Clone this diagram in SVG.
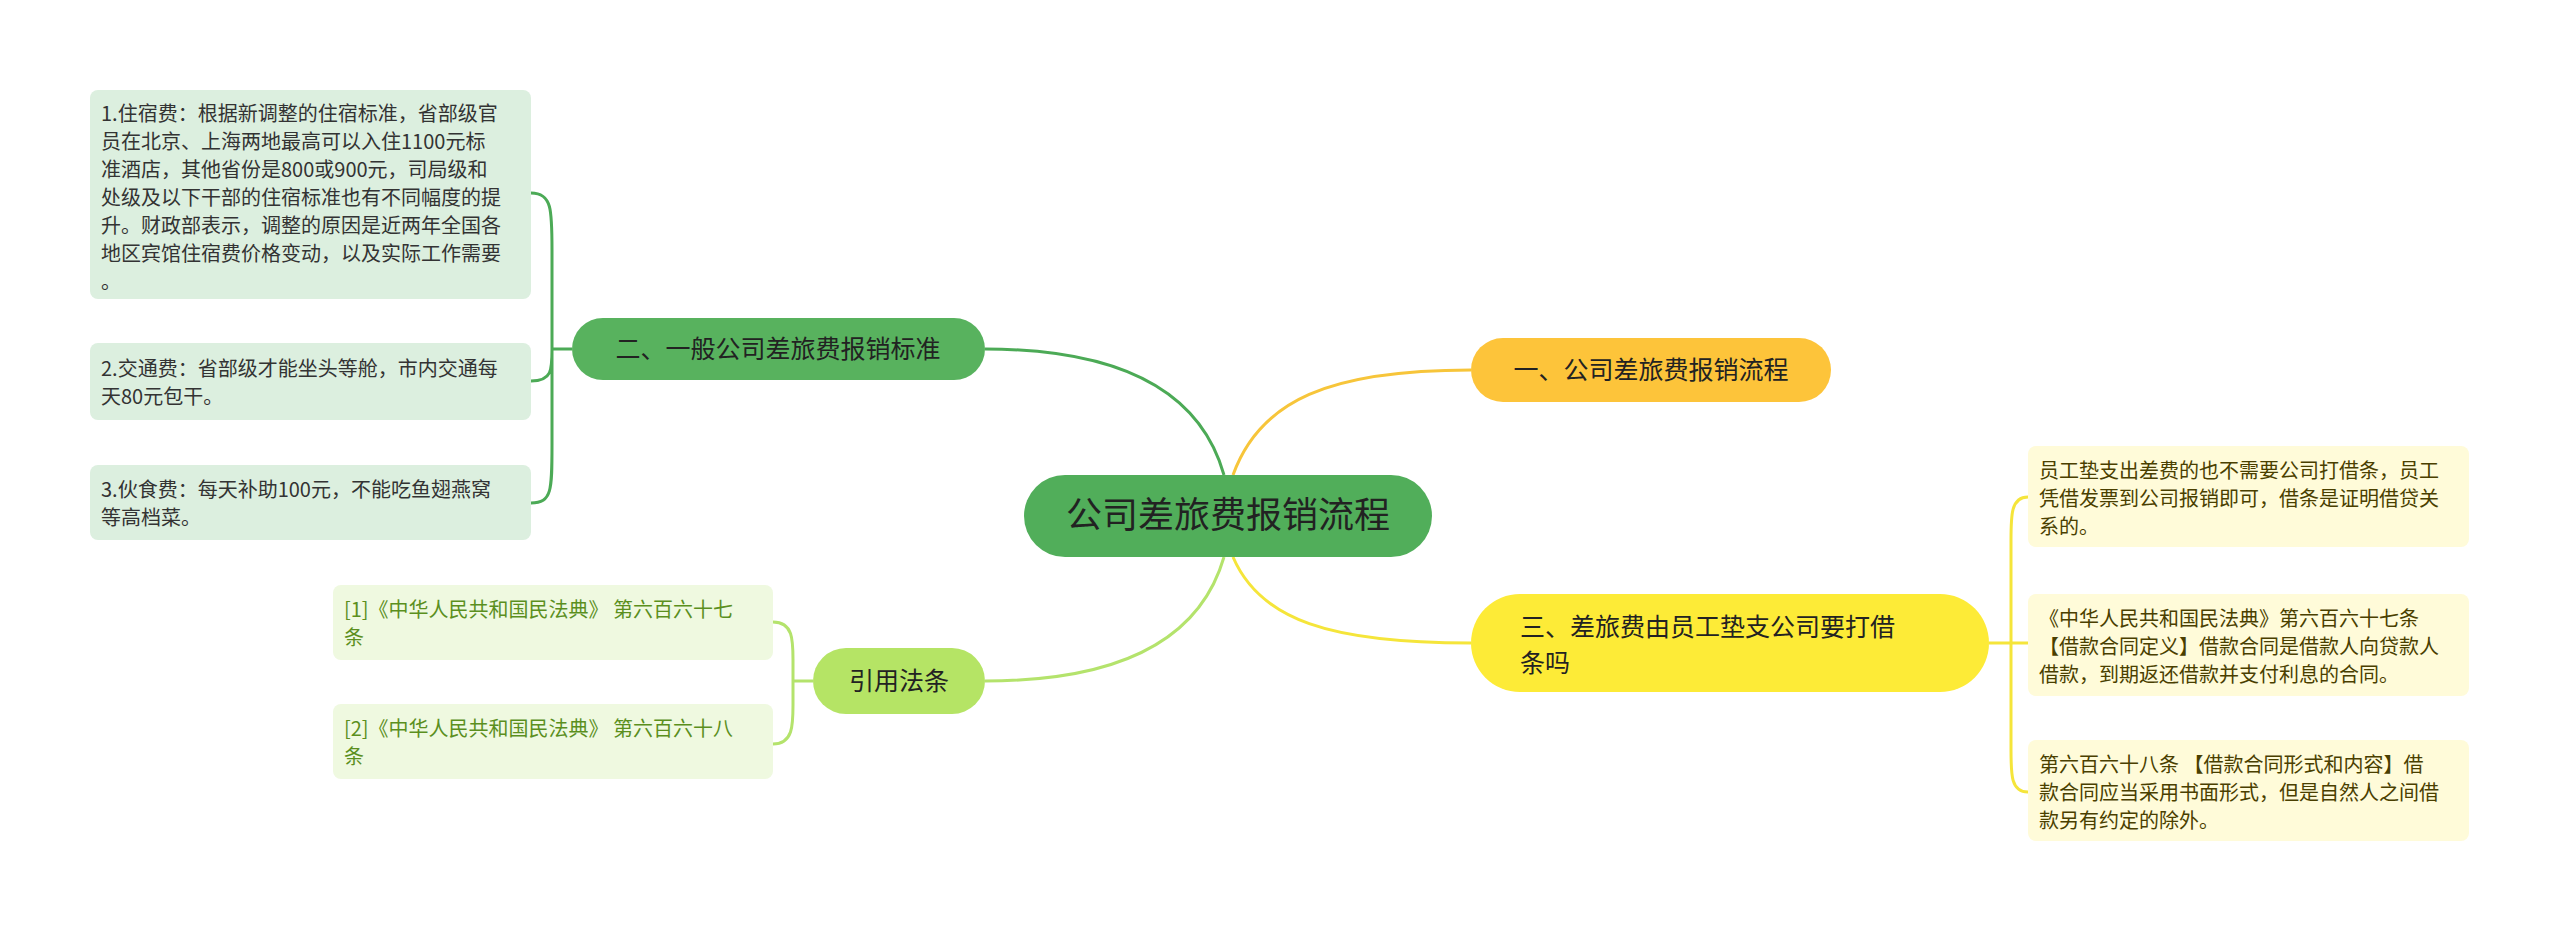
<svg xmlns="http://www.w3.org/2000/svg" width="2560" height="932" viewBox="0 0 2560 932">
<style>
text{font-family:"Noto Sans CJK SC","Liberation Sans",sans-serif}
.c{fill:none;stroke-width:3}
.lf{font-size:20px;fill:#333}
.gl{fill:#dcefdf}
.yl{fill:#fffbd9}
.yt{font-size:20px;fill:#4a3f00}
.cl{fill:#eff9e0}
.ct{font-size:20px;fill:#5b8f1e}
</style>
<rect width="2560" height="932" fill="#fff"/>
<g id="connectors">
<path class="c" stroke="#4caa56" d="M1224,475 C1200,390 1120,349 985,349"/>
<path class="c" stroke="#b4e36c" d="M1224,557 C1200,640 1120,681 985,681"/>
<path class="c" stroke="#f7c53a" d="M1233,475 C1260,400 1330,370 1471,370"/>
<path class="c" stroke="#f5e53a" d="M1233,557 C1260,620 1330,643 1471,643"/>
<path class="c" stroke="#4caa56" stroke-width="2" d="M572,349 H552 M531,193 C552,193 552,210 552,250 V445 C552,490 552,503 531,503 M531,381 C552,381 552,370 552,349"/>
<path class="c" stroke="#b4e36c" stroke-width="2" d="M813,681 H793 M773,622 C793,622 793,640 793,660 V705 C793,725 793,744 773,744"/>
<path class="c" stroke="#f5e53a" stroke-width="2" d="M1989,643 H2011 M2028,497 C2011,497 2011,515 2011,540 V750 C2011,775 2011,792 2028,792 M2011,643 H2028"/>
</g>
<g id="center"><rect x="1024" y="475" width="408" height="82" rx="41" fill="#51ae5a"/><text x="1228" y="528" font-size="36" fill="#222" text-anchor="middle">公司差旅费报销流程</text></g>
<g id="n2"><rect x="572" y="318" width="413" height="62" rx="31" fill="#58b25e"/><text x="778" y="358" font-size="25" fill="#222" text-anchor="middle">二、一般公司差旅费报销标准</text></g>
<g id="n1"><rect x="1471" y="338" width="360" height="64" rx="32" fill="#fdc43a"/><text x="1651" y="379" font-size="25" fill="#222" text-anchor="middle">一、公司差旅费报销流程</text></g>
<g id="n3"><rect x="1471" y="594" width="518" height="98" rx="49" fill="#fdeb37"/><text font-size="25" fill="#222"><tspan x="1520" y="636">三、差旅费由员工垫支公司要打借</tspan><tspan x="1520" y="672">条吗</tspan></text></g>
<g id="n4"><rect x="813" y="648" width="172" height="66" rx="33" fill="#b5e465"/><text x="899" y="690" font-size="25" fill="#222" text-anchor="middle">引用法条</text></g>
<g id="l1"><rect class="gl" x="90" y="90" width="441" height="209" rx="8"/><text class="lf"><tspan x="101" y="121">1.住宿费：根据新调整的住宿标准，省部级官</tspan><tspan x="101" y="149">员在北京、上海两地最高可以入住1100元标</tspan><tspan x="101" y="177">准酒店，其他省份是800或900元，司局级和</tspan><tspan x="101" y="205">处级及以下干部的住宿标准也有不同幅度的提</tspan><tspan x="101" y="233">升。财政部表示，调整的原因是近两年全国各</tspan><tspan x="101" y="261">地区宾馆住宿费价格变动，以及实际工作需要</tspan><tspan x="101" y="289">。</tspan></text></g>
<g id="l2"><rect class="gl" x="90" y="343" width="441" height="77" rx="8"/><text class="lf"><tspan x="101" y="376">2.交通费：省部级才能坐头等舱，市内交通每</tspan><tspan x="101" y="404">天80元包干。</tspan></text></g>
<g id="l3"><rect class="gl" x="90" y="465" width="441" height="75" rx="8"/><text class="lf"><tspan x="101" y="497">3.伙食费：每天补助100元，不能吃鱼翅燕窝</tspan><tspan x="101" y="525">等高档菜。</tspan></text></g>
<g id="c1"><rect class="cl" x="333" y="585" width="440" height="75" rx="8"/><text class="ct"><tspan x="344" y="617">[1]《中华人民共和国民法典》 第六百六十七</tspan><tspan x="344" y="645">条</tspan></text></g>
<g id="c2"><rect class="cl" x="333" y="704" width="440" height="75" rx="8"/><text class="ct"><tspan x="344" y="736">[2]《中华人民共和国民法典》 第六百六十八</tspan><tspan x="344" y="764">条</tspan></text></g>
<g id="r1"><rect class="yl" x="2028" y="446" width="441" height="101" rx="8"/><text class="yt"><tspan x="2039" y="478">员工垫支出差费的也不需要公司打借条，员工</tspan><tspan x="2039" y="506">凭借发票到公司报销即可，借条是证明借贷关</tspan><tspan x="2039" y="534">系的。</tspan></text></g>
<g id="r2"><rect class="yl" x="2028" y="594" width="441" height="102" rx="8"/><text class="yt"><tspan x="2039" y="626">《中华人民共和国民法典》第六百六十七条</tspan><tspan x="2039" y="654">【借款合同定义】借款合同是借款人向贷款人</tspan><tspan x="2039" y="682">借款，到期返还借款并支付利息的合同。</tspan></text></g>
<g id="r3"><rect class="yl" x="2028" y="740" width="441" height="101" rx="8"/><text class="yt"><tspan x="2039" y="772">第六百六十八条 【借款合同形式和内容】借</tspan><tspan x="2039" y="800">款合同应当采用书面形式，但是自然人之间借</tspan><tspan x="2039" y="828">款另有约定的除外。</tspan></text></g>
</svg>
